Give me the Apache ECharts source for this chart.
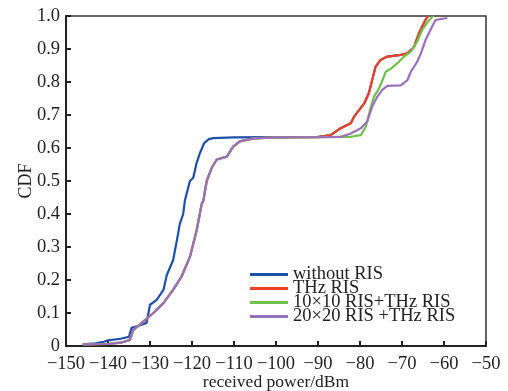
<!DOCTYPE html>
<html><head><meta charset="utf-8">
<script src="https://cdn.jsdelivr.net/npm/echarts@6/dist/echarts.min.js"></script>
<style>html,body{margin:0;padding:0;background:#fff}#c{width:508px;height:391px}</style>
</head><body><div id="c"></div>
<script>
const seriesNames = ["without RIS", "THz RIS", "10×10 RIS+THz RIS", "20×20 RIS +THz RIS"];
const xTicks = [-150, -140, -130, -120, -110, -100, -90, -80, -70, -60, -50];
const yTicks = [0, 0.1, 0.2, 0.3, 0.4, 0.5, 0.6, 0.7, 0.8, 0.9, 1.0];

// shared lower part (RIS-assisted curves)
const risLow = [[-146,0.005],[-140,0.006],[-137,0.010],[-134.8,0.018],[-134,0.048],[-131.6,0.074],[-129.2,0.100],[-126.8,0.130],[-124.5,0.170],[-122.5,0.210],[-120.5,0.270],[-118.9,0.350],[-117.7,0.430],[-117.3,0.440],[-116.5,0.500],[-115.3,0.540],[-114.1,0.565],[-111.7,0.574],[-110.2,0.604],[-108.6,0.620],[-105.4,0.629],[-100,0.632],[-90,0.633]];
const blueLow = [[-146,0.005],[-143,0.008],[-141,0.013],[-140,0.017],[-137,0.022],[-135,0.028],[-134.4,0.055],[-132.5,0.062],[-130.8,0.070],[-130,0.125],[-128.4,0.140],[-126.8,0.170],[-126,0.215],[-124.5,0.260],[-123.6,0.320],[-122.9,0.370],[-122.1,0.400],[-121.7,0.440],[-120.5,0.500],[-119.7,0.510],[-118.9,0.555],[-118.1,0.585],[-117.1,0.615],[-116,0.627],[-114.9,0.630],[-110,0.632],[-100,0.633],[-90,0.634]];
const redHigh = [[-87,0.639],[-84.6,0.660],[-82.2,0.675],[-81.4,0.695],[-79.0,0.735],[-77.9,0.766],[-77.1,0.806],[-76.3,0.846],[-75.1,0.867],[-73.5,0.877],[-70.3,0.882],[-68.7,0.887],[-67.1,0.907],[-66,0.947],[-65.2,0.968],[-64.4,0.988],[-63.8,1.0]];
const greenHigh = [[-84,0.634],[-82.2,0.634],[-79.8,0.639],[-78.6,0.665],[-77.4,0.725],[-76.7,0.755],[-75.5,0.780],[-74.3,0.816],[-73.9,0.831],[-72.7,0.840],[-71.1,0.857],[-69.5,0.877],[-67.9,0.892],[-66.4,0.922],[-65.2,0.958],[-64.0,0.980],[-62.6,1.0]];
const purpleHigh = [[-84.6,0.634],[-82.2,0.644],[-79.8,0.660],[-78.3,0.680],[-77.1,0.725],[-75.9,0.755],[-74.7,0.776],[-73.5,0.788],[-70.3,0.790],[-68.7,0.806],[-67.9,0.831],[-66.4,0.861],[-65.5,0.887],[-64.4,0.927],[-63.2,0.958],[-62.0,0.988],[-60.8,0.991],[-59.2,0.994]];

const colors = ["#1f4fa6", "#ee4126", "#6fc14b", "#9b70bb"];
const dataSets = [blueLow.concat(redHigh), risLow.concat(redHigh), risLow.concat(greenHigh), risLow.concat(purpleHigh)];

const font = "'Liberation Serif','Times New Roman',serif";
const chart = echarts.init(document.getElementById('c'));
chart.setOption({
  animation: false,
  backgroundColor: '#fff',
  grid: {left: 66, right: 22, top: 16, bottom: 45, show: true, borderColor: '#333', borderWidth: 1.5,
         containLabel: false, outerBoundsMode: 'none'},
  legend: {
    orient: 'vertical', left: 245, top: 260, itemGap: -5,
    itemWidth: 38, itemHeight: 3, icon: 'rect',
    data: seriesNames,
    textStyle: {fontFamily: font, fontSize: 18.5, color: '#222', lineHeight: 14}
  },
  xAxis: {
    type: 'value', min: xTicks[0], max: xTicks[xTicks.length-1], interval: 10,
    name: 'received power/dBm', nameLocation: 'middle', nameGap: 27, nameMoveOverlap: false,
    nameTextStyle: {fontFamily: font, fontSize: 17.5, color: '#222'},
    axisLine: {lineStyle: {color: '#222', width: 2}},
    axisTick: {inside: true, length: 5, lineStyle: {color: '#222', width: 2}},
    axisLabel: {fontFamily: font, fontSize: 18.5, color: '#222', margin: 9,
      formatter: v => (v < 0 ? '\u2212' + Math.abs(v) : String(v))},
    splitLine: {show: false}
  },
  yAxis: {
    type: 'value', min: 0, max: 1, interval: 0.1,
    name: 'CDF', nameLocation: 'middle', nameGap: 31, nameMoveOverlap: false,
    nameTextStyle: {fontFamily: font, fontSize: 18, color: '#222'},
    axisLine: {lineStyle: {color: '#222', width: 2}},
    axisTick: {inside: true, length: 5, lineStyle: {color: '#222', width: 2}},
    axisLabel: {fontFamily: font, fontSize: 18.5, color: '#222', margin: 6,
      formatter: v => (v === 0 ? '0' : v.toFixed(1))},
    splitLine: {show: false}
  },
  series: seriesNames.map((n, i) => ({
    name: n, type: 'line', data: dataSets[i], showSymbol: false, symbol: 'none',
    color: colors[i], lineStyle: {width: 2.2, color: colors[i]}
  }))
});
</script></body></html>
